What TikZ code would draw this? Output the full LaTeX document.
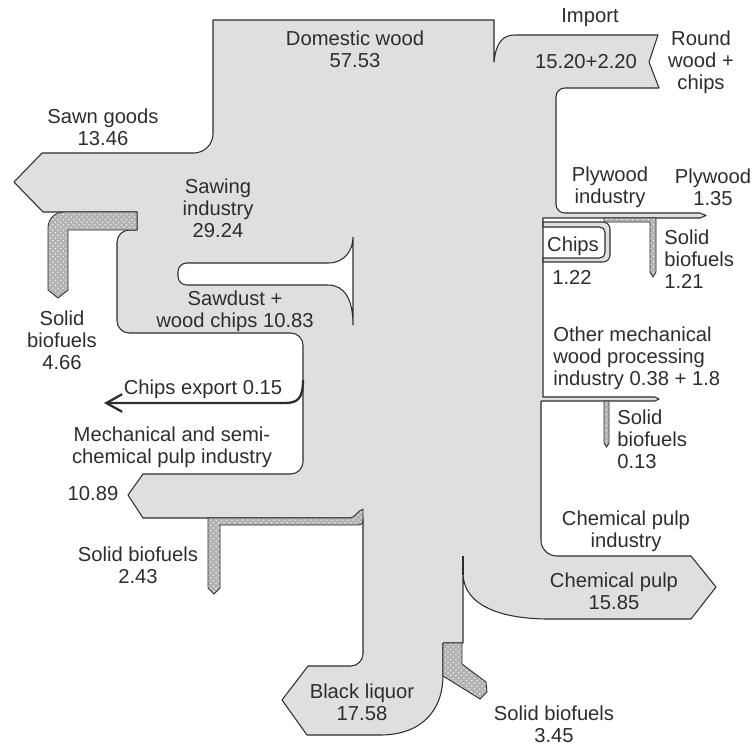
\documentclass[tikz,border=0pt]{standalone}
\usepackage{fontspec}
\setmainfont{Liberation Sans}
\usepackage{tikz}
\usetikzlibrary{positioning}
\usetikzlibrary{patterns,arrows.meta}

\definecolor{flowgray}{RGB}{223,223,221}
\definecolor{inkgray}{RGB}{45,45,45}

\tikzset{
	flow/.style={fill=flowgray, draw=inkgray, line width=0.6pt, line join=round},
	loss/.style={preaction={fill=gray!60}, pattern=crosshatch dots, pattern color=white!85!gray, draw=inkgray, line width=0.5pt},
	hole/.style={fill=white, draw=inkgray, line width=0.6pt},
	lbl/.style={text=inkgray, align=center, inner sep=0pt, font=\fontsize{11.5}{12.6}\selectfont},
}

\begin{document}
\begin{tikzpicture}[x=0.02cm, y=-0.02cm]

	\useasboundingbox (0,0) rectangle (756,752);

	% The whole wood stream as one band:
	% domestic wood + import at the top, products leaving left and right
	\draw[flow] (213,20) -- (494,20) -- (494,62)
		.. controls (496,42) and (503,35) .. (515,35)
		-- (658,35) -- (649,62) -- (659,88)
		[rounded corners=5pt] -- (556,88) -- (556,213)
		[sharp corners] -- (700,213) -- (706,215.5) -- (700,218) -- (543,218)
		-- (543,397) -- (655,397) -- (659,399) -- (655,401) -- (541,401)
		[rounded corners=9pt] -- (541,556)
		[sharp corners] -- (691,556) -- (716,587) -- (691,619) -- (549,619)
		.. controls (500,619) and (463,605) .. (463,573)
		-- (463,643) -- (443,643) -- (443,675)
		.. controls (443,712) and (420,735) .. (380,735)
		-- (307,735) -- (282,700) -- (308,666)
		[rounded corners=7pt] -- (363,666)
		[sharp corners] -- (363,518) -- (143,518) -- (128,495) -- (143,474)
		[rounded corners=7pt] -- (303,474) -- (303,333) -- (117,333) -- (117,230)
		[sharp corners] -- (137,230) -- (137,212) -- (43,212) -- (14,182) -- (42,153)
		[rounded corners=11pt] -- (213,153)
		[sharp corners] -- cycle;

	% split between chemical pulp and black liquor
	\draw[inkgray, line width=0.6pt] (463,556) -- (463,575);

	% sawdust + wood chips going back into the stream
	\draw[hole] (250,263) -- (328,263)
		.. controls (345,263) and (353,250) .. (353,237)
		-- (353,325)
		.. controls (353,300) and (345,285) .. (328,285)
		[rounded corners=5pt] -- (178,285) -- (178,263)
		[sharp corners] -- (220,263) -- cycle;

	% chips loop of the plywood industry
	\draw[flow] (543,222)
		[rounded corners=4pt] -- (610,222) -- (610,262)
		[sharp corners] -- (543,262) -- (543,258)
		[rounded corners=3pt] -- (605,258) -- (605,227)
		[sharp corners] -- (543,227) -- cycle;

	%%%%%%%%%%%%%%%%%%%%%%%%%%%%%%%%%%%%%%%%%%%%%%%%%%%%%%%%%%%%%%
	% solid biofuels (hatched)
	\draw[loss] (137,212)
		[rounded corners=9pt] -- (48,212)
		[sharp corners] -- (48,290) -- (58,298) -- (68,290) -- (68,230) -- (137,230) -- cycle;

	\draw[loss] (208,588) -- (208,518) -- (350,518)
		.. controls (356,517) and (357,511) .. (363,509)
		-- (363,520)
		.. controls (363,524) and (361,525) .. (357,525)
		-- (220,525) -- (220,588) -- (214,594) -- cycle;

	\draw[loss] (443,643) -- (462,643) -- (462,664) -- (486,682) -- (487,692)
		-- (480,699) -- (443,676) -- cycle;

	\draw[loss] (604,218) -- (656,218) -- (656,272) -- (653,277) -- (650,272)
		-- (650,222) -- (604,222) -- cycle;

	\draw[loss] (604,401) -- (609,401) -- (609,443) -- (606.5,447) -- (604,443) -- cycle;

	% chips export
	\draw[inkgray, line width=1.3pt, -{Straight Barb[length=9pt, width=10pt]}]
		(303,380) .. controls (303,398) and (298,403) .. (285,403) -- (104,403);

	%%%%%%%%%%%%%%%%%%%%%%%%%%%%%%%%%%%%%%%%%%%%%%%%%%%%%%%%%%%%%%
	% labels
	\node[lbl] (DW)   at (355,49)  {Domestic wood\\57.53};
	\node[lbl] (Imp)  at (590,18)  {Import};
	\node[lbl] (ImpV) at (586,62)  {15.20+2.20};
	\node[lbl] (RW)   at (701,62)  {Round\\wood +\\chips};
	\node[lbl] (SG)   at (103,127) {Sawn goods\\13.46};
	\node[lbl] (SI)   at (218,208) {Sawing\\industry\\29.24};
	\node[lbl] (SB1)  at (62,340)  {Solid\\biofuels\\4.66};
	\node[lbl] (SD)   at (235,311) {Sawdust +\\wood chips 10.83};
	\node[lbl] (PI)   at (610,187) {Plywood\\industry};
	\node[lbl] (PW)   at (713,187) {Plywood\\1.35};
	\node[lbl] (Ch)   at (573,246) {Chips};
	\node[lbl] (ChV)  at (572,277) {1.22};
	\node[lbl, anchor=west, align=left] (SB2) at (664,259) {Solid\\biofuels\\1.21};
	\node[lbl, anchor=west, align=left] (OM)  at (553,358) {Other mechanical\\wood processing\\industry 0.38 + 1.8};
	\node[lbl, anchor=west, align=left] (SB3) at (617,439) {Solid\\biofuels\\0.13};
	\node[lbl] (CE)   at (203,389) {Chips export 0.15};
	\node[lbl] (MP)   at (172,447) {Mechanical and semi-\\chemical pulp industry};
	\node[lbl] (MPV)  at (93,494)  {10.89};
	\node[lbl] (SB4)  at (138,565) {Solid biofuels\\2.43};
	\node[lbl] (CI)   at (626,531) {Chemical pulp\\industry};
	\node[lbl] (CP)   at (614,591) {Chemical pulp\\15.85};
	\node[lbl] (BL)   at (362,702) {Black liquor\\17.58};
	\node[lbl] (SB5)  at (554,724) {Solid biofuels\\3.45};

\end{tikzpicture}
\end{document}
